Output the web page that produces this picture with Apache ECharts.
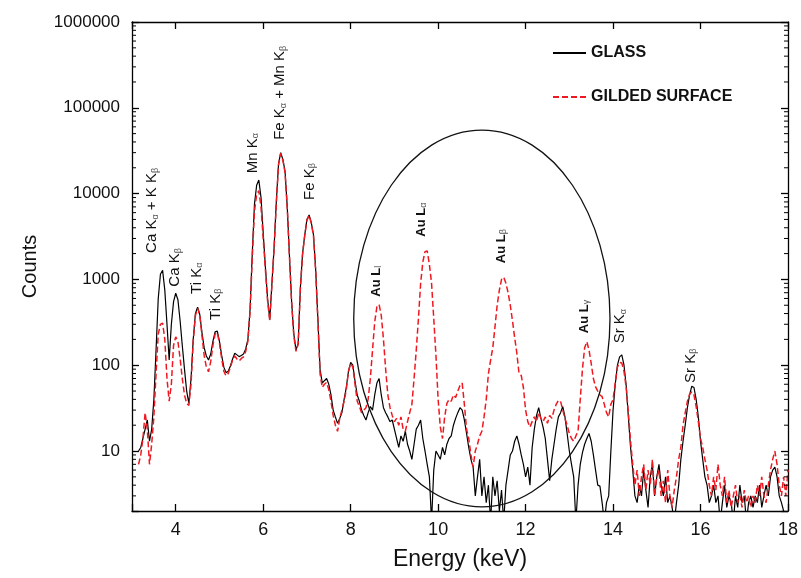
<!DOCTYPE html>
<html>
<head>
<meta charset="utf-8">
<script src="https://cdn.jsdelivr.net/npm/echarts@6/dist/echarts.min.js"></script>
<style>
  html, body { margin: 0; padding: 0; background: #fff; }
  #main { width: 801px; height: 578px; }
</style>
</head>
<body>
<div id="main"></div>
<script>
// spectrum channels: first energy and step (keV)
var E_START = 3.15;
var E_STEP = 0.05;

// GLASS counts, one row per keV (first row 3.15 - 3.95)
var glass = [
  10, 11, 14, 18, 23, 13, 18, 40, 150, 600, 1150, 1280, 750, 300, 115, 300, 550,
  690, 580, 330, 170, 90, 50, 36, 70, 200, 400, 475, 390, 240, 160, 128, 115, 135, 190, 245, 250,
  190, 130, 95, 82, 85, 98, 118, 138, 132, 126, 130, 135, 155, 200, 450, 2000, 7500, 12500, 14400, 9000,
  3500, 1400, 600, 340, 900, 2400, 8000, 22000, 30000, 25000, 18000, 7000, 1900, 550, 230, 150, 180, 800, 2000, 3300,
  5000, 5650, 4600, 3300, 1300, 350, 90, 62, 66, 70, 60, 45, 30, 25, 21, 24, 28, 40, 55, 85,
  108, 100, 65, 45, 38, 30, 26, 23, 28, 33, 30, 45, 62, 70, 45, 32, 28, 25, 22, 23,
  18, 14, 11, 15, 13, 17, 12, 10, 8, 12, 18, 20, 23, 14, 10, 7, 5, 1.5, 6, 10,
  9, 8, 11, 9, 12, 14, 15, 20, 24, 28, 32, 30, 23, 16, 11, 8, 6.5, 3, 5, 8,
  3, 5, 2.5, 4, 1.5, 5, 3, 4.5, 2, 3.5, 1.5, 4, 6, 9, 10, 13, 15, 12, 9, 7,
  5, 6.5, 4, 11, 18, 26, 32, 24, 19, 14, 8, 4.5, 8, 12, 18, 25, 28, 33, 25, 16,
  10, 7, 5, 1.5, 4, 7, 9.6, 12, 14, 16, 13, 9, 6, 4, 3.9, 2.5, 1.5, 2.5, 3, 10,
  30, 60, 100, 125, 132, 100, 58, 25, 11, 6, 3, 2.5, 4, 3, 6, 3.5, 2.2, 5, 7, 3,
  5, 7, 4, 3, 5, 2.5, 3, 2.2, 1.5, 2.5, 4, 8, 13, 20, 32, 45, 57, 55, 40, 25,
  13, 8, 5, 4, 2.5, 3, 4, 2.5, 3, 1.5, 2.5, 4, 2.2, 3, 2.5, 1.5, 3, 2.2, 4, 2.5,
  3, 1.5, 2.5, 3, 2.2, 3, 2.5, 4, 2.2, 3, 4, 3, 5, 6, 6.5, 5, 3, 2.5, 2, 1.5,
  2
];

// GILDED SURFACE counts, same channels
var gilded = [
  7, 9, 14, 28, 18, 7, 12, 25, 80, 230, 300, 310, 200, 70, 38, 60, 170,
  214, 190, 120, 70, 45, 36, 34, 60, 190, 380, 460, 380, 220, 130, 95, 84, 110, 170, 230, 240,
  180, 120, 85, 75, 80, 95, 115, 128, 118, 112, 120, 125, 145, 190, 420, 1800, 6200, 9800, 10800, 7000,
  3000, 1300, 560, 330, 880, 2350, 7800, 21500, 29500, 24500, 17500, 6800, 1850, 530, 220, 145, 175, 780, 1950, 3250,
  4900, 5550, 4500, 3200, 1250, 330, 80, 55, 60, 63, 52, 38, 26, 20, 17, 24, 30, 38, 52, 85,
  105, 95, 60, 38, 33, 28, 30, 32, 40, 70, 150, 320, 480, 510, 380, 200, 90, 45, 32, 26,
  22, 24, 20, 25, 18, 17, 22, 28, 35, 70, 150, 350, 900, 1600, 2100, 2150, 1500, 900, 350, 130,
  40, 19, 14, 25, 36, 40, 38, 45, 42, 50, 58, 62, 35, 18, 14, 9, 6.5, 10, 12, 15,
  17, 25, 40, 80, 115, 160, 280, 500, 750, 1000, 1060, 900, 700, 500, 330, 210, 138, 80, 76, 55,
  30, 22, 19, 22, 25, 22, 28, 24, 22, 25, 21, 26, 24, 30, 35, 39, 38, 30, 24, 20,
  16, 14, 13, 15, 17, 40, 90, 160, 188, 150, 105, 70, 56, 50, 45, 43, 35, 28, 25, 35,
  40, 62, 95, 108, 106, 85, 55, 28, 13, 7, 4, 6, 3, 5, 7, 3.5, 6, 4, 8, 3,
  5, 6, 3, 4.5, 2.5, 6, 3, 2.2, 3.5, 5, 8, 11, 20, 28, 38, 46, 49, 45, 33, 22,
  14, 11, 8, 6, 4, 3, 5, 3.5, 7, 4, 3, 5, 2.5, 3.5, 2.2, 3, 4, 2.5, 3, 2.2,
  3.5, 2.5, 3, 2.2, 3, 2.5, 4, 3, 5, 3, 2.5, 4, 6, 8, 10, 7, 4, 3, 5, 3,
  6
];

var yDecades = [10, 100, 1000, 10000, 100000, 1000000];

// peak labels: text bottom anchored at (energy, counts)
var peakLabels = [
  { text: 'Ca K{s|α} + K K{s|β}', e: 3.46, c: 2035 },
  { text: 'Ca K{s|β}', e: 3.99, c: 824 },
  { text: 'Ti K{s|α}', e: 4.48, c: 678 },
  { text: 'Ti K{s|β}', e: 4.92, c: 337 },
  { text: 'Mn K{s|α}', e: 5.76, c: 17300 },
  { text: 'Fe K{s|α} + Mn K{s|β}', e: 6.39, c: 42300 },
  { text: 'Fe K{s|β}', e: 7.06, c: 8450 },
  { text: 'Au L{s|l}', e: 8.59, c: 630, bold: true },
  { text: 'Au L{s|α}', e: 9.61, c: 3150, bold: true },
  { text: 'Au L{s|β}', e: 11.44, c: 1545, bold: true },
  { text: 'Au L{s|γ}', e: 13.34, c: 236, bold: true },
  { text: 'Sr K{s|α}', e: 14.16, c: 180 },
  { text: 'Sr K{s|β}', e: 15.78, c: 62 }
];

// ellipse around the Au lines: [eMin, countsMin, eMax, countsMax]
var ellipseBox = [8.07, 2.24, 13.93, 55000];

var FONT = '"Liberation Sans", Arial, sans-serif';

function toPairs(arr) {
  return arr.map(function (v, i) {
    return [+(E_START + i * E_STEP).toFixed(2), v];
  });
}

var minorTicks = [];
for (var d = 1; d < 1000000; d *= 10) {
  for (var m = 2; m <= 9; m++) {
    if (d * m > 2) minorTicks.push([3, d * m]);
  }
}

var chart = echarts.init(document.getElementById('main'));

var axisLine = { onZero: false, lineStyle: { color: '#000', width: 1.3 } };
var axisTick = { inside: true, length: 7, lineStyle: { color: '#000', width: 1.3 } };

var option = {
  animation: false,
  backgroundColor: '#fff',
  grid: { left: 132, right: 11, top: 22, bottom: 67 },
  legend: {
    data: ['GLASS', 'GILDED SURFACE'],
    orient: 'vertical',
    left: 547,
    top: 40,
    itemWidth: 33,
    itemHeight: 14,
    itemGap: 28,
    itemStyle: { opacity: 0 },
    textStyle: { fontSize: 16, fontWeight: 'bold', color: '#111', fontFamily: FONT }
  },
  xAxis: [{
    type: 'value',
    min: 3,
    max: 18,
    splitNumber: 7,
    position: 'bottom',
    name: 'Energy (keV)',
    nameLocation: 'middle',
    nameGap: 37,
    nameTextStyle: { fontSize: 23, color: '#111', fontFamily: FONT },
    axisLine: axisLine,
    axisTick: axisTick,
    axisLabel: {
      fontSize: 18, color: '#111', margin: 10, fontFamily: FONT,
      formatter: function (v) { return v % 2 === 0 ? String(v) : ''; }
    },
    splitLine: { show: false }
  }, {
    type: 'value',
    min: 3,
    max: 18,
    splitNumber: 7,
    position: 'top',
    axisLine: axisLine,
    axisTick: axisTick,
    axisLabel: { show: false },
    splitLine: { show: false }
  }],
  yAxis: [{
    type: 'log',
    logBase: 10,
    min: 2,
    max: 1000000,
    position: 'left',
    name: 'Counts',
    nameLocation: 'middle',
    nameGap: 92,
    nameTextStyle: { fontSize: 20, color: '#111', fontFamily: FONT },
    axisLine: axisLine,
    axisTick: axisTick,
    axisLabel: {
      fontSize: 17, color: '#111', margin: 12, fontFamily: FONT,
      formatter: function (v) {
        var r = Math.round(v);
        return yDecades.indexOf(r) >= 0 ? String(r) : '';
      }
    },
    splitLine: { show: false }
  }, {
    type: 'log',
    logBase: 10,
    min: 2,
    max: 1000000,
    position: 'right',
    axisLine: axisLine,
    axisTick: axisTick,
    axisLabel: { show: false },
    splitLine: { show: false }
  }],
  series: [{
    name: 'GLASS',
    type: 'line',
    symbol: 'none',
    data: toPairs(glass),
    lineStyle: { color: '#000', width: 1.2 },
    itemStyle: { color: '#000' },
    z: 2
  }, {
    name: 'GILDED SURFACE',
    type: 'line',
    symbol: 'none',
    data: toPairs(gilded),
    lineStyle: { color: '#f01820', width: 1.5, type: [6, 3] },
    itemStyle: { color: '#f01820' },
    z: 3
  }, {
    name: 'minor',
    type: 'custom',
    silent: true,
    clip: false,
    data: minorTicks,
    renderItem: function (params, api) {
      var p = api.coord([api.value(0), api.value(1)]);
      var cs = params.coordSys;
      var st = { stroke: '#000', lineWidth: 1 };
      return {
        type: 'group',
        children: [
          { type: 'line', shape: { x1: cs.x, y1: p[1], x2: cs.x + 4, y2: p[1] }, style: st },
          { type: 'line', shape: { x1: cs.x + cs.width - 4, y1: p[1], x2: cs.x + cs.width, y2: p[1] }, style: st }
        ]
      };
    },
    z: 4
  }, {
    name: 'ellipse',
    type: 'custom',
    silent: true,
    clip: false,
    data: [ellipseBox],
    encode: { x: [0, 2], y: [1, 3] },
    renderItem: function (params, api) {
      var a = api.coord([api.value(0), api.value(1)]);
      var b = api.coord([api.value(2), api.value(3)]);
      return {
        type: 'ellipse',
        shape: {
          cx: (a[0] + b[0]) / 2,
          cy: (a[1] + b[1]) / 2,
          rx: Math.abs(b[0] - a[0]) / 2,
          ry: Math.abs(b[1] - a[1]) / 2
        },
        style: { fill: 'none', stroke: '#111', lineWidth: 1.3 }
      };
    },
    z: 4
  }]
};

chart.setOption(option);

// rotated peak labels placed through the chart's own scales
chart.setOption({
  graphic: peakLabels.map(function (l) {
    var p = chart.convertToPixel({ seriesIndex: 0 }, [l.e, l.c]);
    return {
      type: 'text',
      x: p[0],
      y: p[1],
      rotation: Math.PI / 2,
      silent: true,
      style: {
        text: l.text,
        fontSize: l.bold ? 13 : 15,
        fontWeight: l.bold ? 'bold' : 'normal',
        fontFamily: FONT,
        fill: '#111',
        align: 'left',
        verticalAlign: 'middle',
        rich: {
          s: { fontSize: 9, fill: '#555', verticalAlign: 'bottom', fontFamily: FONT }
        }
      }
    };
  })
});
</script>
</body>
</html>
